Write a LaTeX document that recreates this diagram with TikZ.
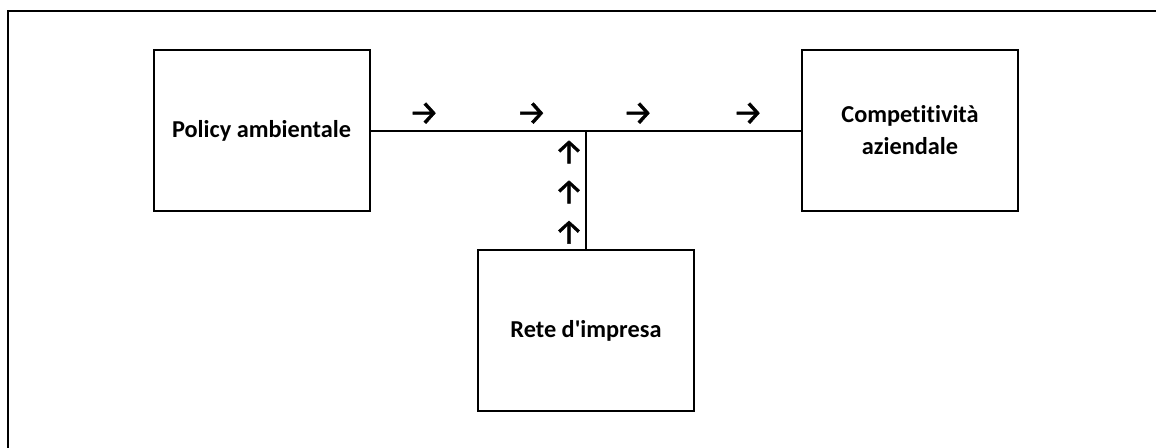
\documentclass[tikz,border=0pt]{standalone}
\usepackage{fontspec}
\setmainfont{Carlito}[Ligatures={TeXOff,NoCommon}]
\newfontfamily\arrowfont{Fira Sans}[FakeBold=1.2]
\begin{document}
\begin{tikzpicture}[x=1pt,y=-1pt,
  blk/.style={draw=black, line width=2pt, minimum width=216pt, minimum height=161pt,
    inner sep=0pt, align=center, font=\fontsize{24.3}{32}\selectfont\bfseries},
  conn/.style={draw=black, line width=2pt},
  frame/.style={draw=black, line width=2.5pt},
  glyph/.style={inner sep=0pt, font=\fontsize{34}{34}\arrowfont}]
\useasboundingbox (0,0) rectangle (1156,447);
\clip (0,0) rectangle (1156,447);
\draw[frame] (1170,11) -- (8,11) -- (8,460);
\node[blk] (pol) at (261.5,130.5) {Policy ambientale};
\node[blk] (comp) at (910,130.5) {Competitività\\aziendale};
\node[blk] (rete) at (586,330.5) {Rete d'impresa};
\coordinate (j) at (rete.north |- pol.east);
\draw[conn] (pol.east) -- (comp.west);
\draw[conn] (rete.north) -- (j);
\node[glyph] (r1) at (424,113.5) {→};
\node[glyph] (r2) at (531.5,113.5) {→};
\node[glyph] (r3) at (638,113.5) {→};
\node[glyph] (r4) at (748,113.5) {→};
\node[glyph] (u1) at (569,152) {↑};
\node[glyph] (u2) at (569,192) {↑};
\node[glyph] (u3) at (569,232.3) {↑};
\end{tikzpicture}
\end{document}
